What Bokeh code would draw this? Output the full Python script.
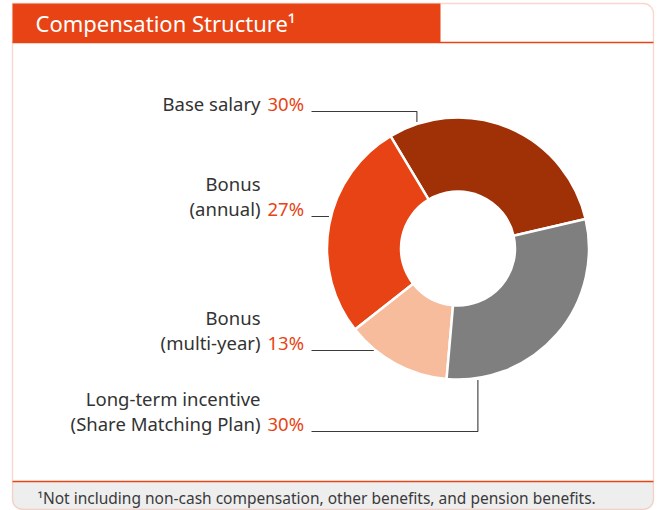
import math
from bokeh.plotting import figure
from bokeh.models import BoxAnnotation, Range1d, ColumnDataSource
from bokeh.core.properties import value
from bokeh.embed import file_html
from bokeh.resources import INLINE

# ---------------- data ----------------
categories = ["Base salary", "Bonus (annual)", "Bonus (multi-year)",
              "Long-term incentive (Share Matching Plan)"]
label_lines = [["Base salary"], ["Bonus", "(annual)"], ["Bonus", "(multi-year)"],
               ["Long-term incentive", "(Share Matching Plan)"]]
shares = [30, 27, 13, 30]
pct_text = ["30%", "27%", "13%", "30%"]
slice_colors = ["#A03006", "#E84314", "#F7BC9B", "#7F7F7F"]
title = "Compensation Structure\u00b9"
footnote = "\u00b9Not including non-cash compensation, other benefits, and pension benefits."

# ---------------- layout (reference pixel coordinates, y measured from top) ----------------
REF_W, REF_H = 660, 510
def Y(ry):
    return REF_H - ry

ORANGE = "#E84314"
FRAME = "#EE7A55"
TEXT = "#333333"
FONT = "Noto Sans"

cx, cy = 457.5, Y(248)
r_in, r_out = 57, 131
start_deg = 13.0

label_right = 260
pct_left = 267
last_line_y = [103, 208, 342, 423]   # reference y of the last text line
line_gap = 25
leader_x0 = 311
elbow_angle = [108.0, None, None, 278.6]   # degrees; None -> horizontal leader meets ring

p = figure(width=REF_W, height=REF_H, x_range=Range1d(0, REF_W), y_range=Range1d(0, REF_H),
           output_backend="svg", toolbar_location=None, min_border=0)
p.axis.visible = False
p.grid.visible = False
p.outline_line_color = None
p.background_fill_color = "white"
p.border_fill_color = "white"

# frame pieces
p.add_layout(BoxAnnotation(left=12, right=440, top=Y(3), bottom=Y(42), fill_color=ORANGE,
                           fill_alpha=1, line_alpha=0, level="underlay"))
p.add_layout(BoxAnnotation(left=12, right=653, top=Y(481), bottom=Y(509), fill_color="#EEEEEE",
                           fill_alpha=1, line_alpha=0, border_radius=(0, 0, 10, 10),
                           level="underlay"))
p.add_layout(BoxAnnotation(left=12, right=653, top=Y(3), bottom=Y(509), fill_alpha=0,
                           line_color=FRAME, line_width=1.3, border_radius=(0, 10, 10, 10),
                           level="overlay"))
p.segment(x0=[12, 12], y0=[Y(42), Y(481)], x1=[653, 653], y1=[Y(42), Y(481)],
          line_color=ORANGE, line_width=1.3)

# donut
total = float(sum(shares))
starts, ends = [], []
a = math.radians(start_deg)
for v in shares:
    starts.append(a)
    a += 2 * math.pi * v / total
    ends.append(a)
src = ColumnDataSource(dict(cat=categories, share=shares, start=starts, end=ends, color=slice_colors))
p.annular_wedge(x=cx, y=cy, inner_radius=r_in, outer_radius=r_out, start_angle="start",
                end_angle="end", fill_color="color", line_color="white", line_width=2.5,
                source=src)

# labels
tx, ty, tt = [], [], []
for lines, ly in zip(label_lines, last_line_y):
    n = len(lines)
    for i, s in enumerate(lines):
        tx.append(label_right)
        ty.append(Y(ly - (n - 1 - i) * line_gap))
        tt.append(s)
p.text(x=tx, y=ty, text=tt, text_align="right", text_baseline="middle",
       text_font=value(FONT), text_font_size="18.5px", text_color=TEXT)
p.text(x=[pct_left] * 4, y=[Y(v) for v in last_line_y], text=pct_text, text_align="left",
       text_baseline="middle", text_font=value(FONT), text_font_size="18.5px", text_color=ORANGE)

# leaders
xs, ys = [], []
for ly, ang in zip(last_line_y, elbow_angle):
    hy = Y(ly + 8)
    if ang is not None:
        ex = cx + (r_out + 2) * math.cos(math.radians(ang))
        ey = cy + (r_out + 2) * math.sin(math.radians(ang))
        xs.append([leader_x0, ex, ex])
        ys.append([hy, hy, ey])
    else:
        dy = hy - cy
        ex = cx - math.sqrt(r_out ** 2 - dy ** 2) - 2
        xs.append([leader_x0, ex])
        ys.append([hy, hy])
p.multi_line(xs=xs, ys=ys, line_color="#3A3A3A", line_width=1.1)

# title and footnote
p.text(x=[35], y=[Y(22)], text=[title], text_align="left", text_baseline="middle",
       text_font=value(FONT), text_font_size="22px", text_color="white")
p.text(x=[37], y=[Y(497)], text=[footnote], text_align="left", text_baseline="middle",
       text_font=value(FONT), text_font_size="15.5px", text_color="#3A3A3A")

open("out.html", "w").write(file_html(p, INLINE))
